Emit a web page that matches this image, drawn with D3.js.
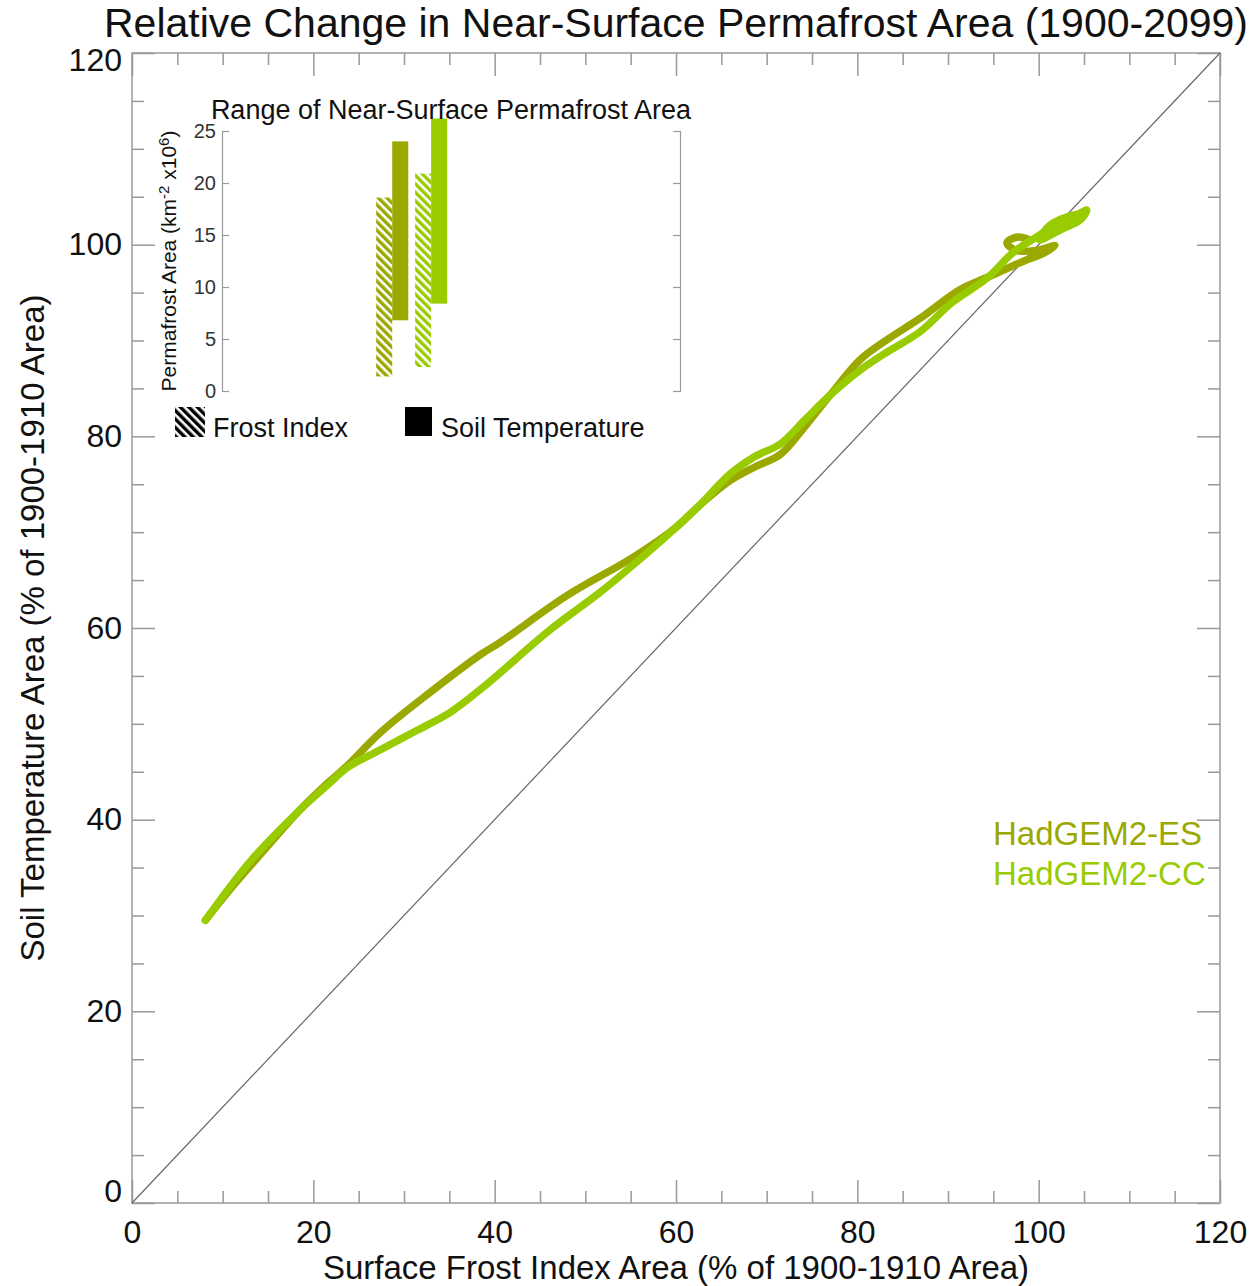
<!DOCTYPE html>
<html>
<head>
<meta charset="utf-8">
<script src="https://cdn.jsdelivr.net/npm/d3@7"></script>
<style>
  body { margin: 0; background: #fff; }
  text { font-family: "Liberation Sans", Arial, Helvetica, sans-serif; }
</style>
</head>
<body>
<svg id="chart" width="1257" height="1286"></svg>
<script>
/* global d3 */

const models = ['HadGEM2-ES', 'HadGEM2-CC'];
const modelColors = ['#9aa800', '#99cc00'];

// trajectories in % of 1900-1910 area (x: surface frost index, y: soil temperature)
const esFrost = [8.1, 10.8, 14.1, 18.5, 21.8, 23.7, 27.4, 32.9, 38.4, 40.6, 48.0, 55.3, 60.0, 62.6, 66.0, 68.7, 71.5, 74.2, 77.0, 80.3, 83.3, 86.9, 91.3, 94.6, 97.9, 100.7, 101.8, 99.7, 97.5, 96.5, 97.7, 99.0];
const esSoil = [29.5, 32.7, 36.3, 41.0, 44.0, 45.6, 49.1, 53.3, 57.2, 58.5, 63.4, 67.4, 70.5, 72.8, 75.4, 76.8, 78.1, 81.0, 84.3, 88.0, 90.1, 92.3, 95.3, 96.7, 98.1, 99.2, 99.9, 99.4, 99.4, 100.2, 100.8, 100.5];
const ccFrost = [8.1, 13.0, 18.5, 21.8, 23.7, 27.4, 31.4, 35.1, 38.7, 46.1, 51.6, 55.3, 60.0, 62.6, 66.0, 68.7, 71.5, 74.2, 77.0, 80.3, 83.3, 86.9, 90.5, 94.3, 97.2, 99.6, 101.8, 104.0, 105.3, 104.6, 102.3, 100.1, 101.2, 103.5, 104.8];
const ccSoil = [29.5, 35.6, 41.0, 43.8, 45.4, 47.3, 49.3, 51.2, 53.8, 59.8, 63.7, 66.6, 70.5, 72.8, 76.1, 77.9, 79.2, 81.7, 84.3, 86.9, 88.8, 90.9, 94.0, 96.5, 99.2, 100.7, 102.0, 103.0, 103.6, 102.6, 101.5, 100.5, 102.0, 103.0, 103.2];

// inset: range of near-surface permafrost area (km2 x10^6)
const frostMin = [1.4, 2.3];
const frostMax = [18.6, 20.9];
const soilMin = [6.8, 8.4];
const soilMax = [24.0, 26.2];

const mainTicks = [0, 20, 40, 60, 80, 100, 120];
const insetTicks = [0, 5, 10, 15, 20, 25];

const axisColor = '#999';
const font = '"Liberation Sans", Arial, Helvetica, sans-serif';

const svg = d3.select('#chart');

/* MAIN PLOT */
const x = d3.scaleLinear().domain([0, 120]).range([132, 1220]);
const y = d3.scaleLinear().domain([0, 120]).range([1203, 53]);
const minorTicks = d3.range(0, 121, 5).filter(v => v % 20 !== 0);

const styleAxis = sel => {
  sel.select('.domain').remove();
  sel.selectAll('line').attr('stroke', axisColor).attr('stroke-width', 1.5);
  sel.selectAll('text')
    .attr('fill', '#111')
    .attr('font-size', 32)
    .attr('font-family', font);
};

// minor ticks on all four sides, pointing inward
const sides = [
  { axis: d3.axisBottom(x), at: `translate(0,${y(0)})` },
  { axis: d3.axisTop(x), at: `translate(0,${y(120)})` },
  { axis: d3.axisLeft(y), at: `translate(${x(0)},0)` },
  { axis: d3.axisRight(y), at: `translate(${x(120)},0)` },
];

sides.forEach(s => {
  svg.append('g')
    .attr('transform', s.at)
    .call(s.axis.tickValues(minorTicks).tickSize(-12).tickFormat(''))
    .call(styleAxis);
});

svg.append('g')
  .attr('transform', `translate(0,${y(0)})`)
  .call(d3.axisBottom(x).tickValues(mainTicks).tickSize(-23).tickPadding(17).tickFormat(d3.format('d')))
  .call(styleAxis);

svg.append('g')
  .attr('transform', `translate(0,${y(120)})`)
  .call(d3.axisTop(x).tickValues(mainTicks).tickSize(-23).tickFormat(''))
  .call(styleAxis);

svg.append('g')
  .attr('transform', `translate(${x(0)},0)`)
  .call(d3.axisLeft(y).tickValues(mainTicks).tickSize(-23).tickPadding(10).tickFormat(d3.format('d')))
  .call(styleAxis)
  .selectAll('text')
    // end labels are kept inside the frame
    .attr('y', d => (d === 0 ? -12 : d === 120 ? 7 : 0));

svg.append('g')
  .attr('transform', `translate(${x(120)},0)`)
  .call(d3.axisRight(y).tickValues(mainTicks).tickSize(-23).tickFormat(''))
  .call(styleAxis);

svg.append('rect')
  .attr('x', x(0))
  .attr('y', y(120))
  .attr('width', x(120) - x(0))
  .attr('height', y(0) - y(120))
  .attr('fill', 'none')
  .attr('stroke', axisColor)
  .attr('stroke-width', 1.5);

// 1:1 line
svg.append('line')
  .attr('x1', x(0)).attr('y1', y(0))
  .attr('x2', x(120)).attr('y2', y(120))
  .attr('stroke', '#666')
  .attr('stroke-width', 1.2);

const line = d3.line()
  .curve(d3.curveCatmullRom.alpha(0.5))
  .x(d => x(d[0]))
  .y(d => y(d[1]));

const series = [d3.zip(esFrost, esSoil), d3.zip(ccFrost, ccSoil)];

svg.append('g')
  .selectAll('path')
  .data(series)
  .enter().append('path')
    .attr('d', line)
    .attr('fill', 'none')
    .attr('stroke', (d, i) => modelColors[i])
    .attr('stroke-width', 7.5)
    .attr('stroke-linecap', 'round')
    .attr('stroke-linejoin', 'round');

// model labels
svg.append('g')
  .selectAll('text')
  .data(models)
  .enter().append('text')
    .attr('x', 993)
    .attr('y', (d, i) => 845 + i * 40)
    .attr('font-size', 33)
    .attr('fill', (d, i) => modelColors[i])
    .text(d => d);

svg.append('text')
  .attr('x', 676)
  .attr('y', 37)
  .attr('text-anchor', 'middle')
  .attr('font-size', 41)
  .attr('fill', '#111')
  .text('Relative Change in Near-Surface Permafrost Area (1900-2099)');

svg.append('text')
  .attr('x', 676)
  .attr('y', 1279)
  .attr('text-anchor', 'middle')
  .attr('font-size', 33)
  .attr('fill', '#111')
  .text('Surface Frost Index Area (% of 1900-1910 Area)');

svg.append('text')
  .attr('transform', 'translate(44,628) rotate(-90)')
  .attr('text-anchor', 'middle')
  .attr('font-size', 33)
  .attr('fill', '#111')
  .text('Soil Temperature Area (% of 1900-1910 Area)');

/* INSET: RANGE OF PERMAFROST AREA */
const ix = d3.scaleLinear().domain([0, 30]).range([222, 680]);
const iy = d3.scaleLinear().domain([0, 25]).range([391, 131]);
const pairStart = [10.1, 12.65];
const barW = 1.05;

const defs = svg.append('defs');
const hatch = (id, color) => {
  const p = defs.append('pattern')
    .attr('id', id)
    .attr('patternUnits', 'userSpaceOnUse')
    .attr('width', 6)
    .attr('height', 6)
    .attr('patternTransform', 'rotate(-45)');
  p.append('rect').attr('width', 6).attr('height', 6).attr('fill', '#fff');
  p.append('rect').attr('width', 3.4).attr('height', 6).attr('fill', color);
};
hatch('hatch-0', modelColors[0]);
hatch('hatch-1', modelColors[1]);
hatch('hatch-k', '#000');

const inset = svg.append('g').attr('class', 'inset');

const insetMinor = d3.range(0, 26, 1).filter(v => v % 5 !== 0);
[
  { axis: d3.axisLeft, at: ix(0), labels: true },
  { axis: d3.axisRight, at: ix(30), labels: false },
].forEach(s => {
  const g = inset.append('g').attr('transform', `translate(${s.at},0)`);
  g.call(s.axis(iy).tickValues(insetMinor).tickSize(-3).tickFormat(''));
  g.call(s.axis(iy).tickValues(insetTicks).tickSize(-7).tickPadding(6)
    .tickFormat(s.labels ? d3.format('d') : ''));
  g.selectAll('.domain').attr('stroke', axisColor).attr('stroke-width', 1.2);
  g.selectAll('line').attr('stroke', axisColor).attr('stroke-width', 1.2);
  g.selectAll('text')
    .attr('font-size', 20)
    .attr('font-family', font)
    .attr('fill', '#333');
});

inset.append('g')
  .selectAll('rect')
  .data(models)
  .enter().append('rect')
    .attr('x', (d, i) => ix(pairStart[i]))
    .attr('y', (d, i) => iy(frostMax[i]))
    .attr('width', ix(barW) - ix(0))
    .attr('height', (d, i) => iy(frostMin[i]) - iy(frostMax[i]))
    .attr('fill', (d, i) => `url(#hatch-${i})`);

inset.append('g')
  .selectAll('rect')
  .data(models)
  .enter().append('rect')
    .attr('x', (d, i) => ix(pairStart[i] + barW))
    .attr('y', (d, i) => iy(soilMax[i]))
    .attr('width', ix(barW) - ix(0))
    .attr('height', (d, i) => iy(soilMin[i]) - iy(soilMax[i]))
    .attr('fill', (d, i) => modelColors[i]);

inset.append('text')
  .attr('x', 451)
  .attr('y', 119)
  .attr('text-anchor', 'middle')
  .attr('font-size', 27)
  .attr('fill', '#111')
  .text('Range of Near-Surface Permafrost Area');

const ylab = inset.append('text')
  .attr('transform', `translate(176,${(iy(0) + iy(25)) / 2}) rotate(-90)`)
  .attr('text-anchor', 'middle')
  .attr('font-size', 21)
  .attr('fill', '#111');
ylab.append('tspan').text('Permafrost Area (km');
ylab.append('tspan').attr('dy', -7).attr('font-size', 15).text('-2');
ylab.append('tspan').attr('dy', 7).text(' x10');
ylab.append('tspan').attr('dy', -7).attr('font-size', 15).text('6');
ylab.append('tspan').attr('dy', 7).text(')');

// inset legend
inset.append('rect')
  .attr('x', 175).attr('y', 407)
  .attr('width', 30).attr('height', 30)
  .attr('fill', 'url(#hatch-k)');
inset.append('text')
  .attr('x', 213).attr('y', 437)
  .attr('font-size', 27)
  .attr('fill', '#111')
  .text('Frost Index');
inset.append('rect')
  .attr('x', 405).attr('y', 407)
  .attr('width', 27).attr('height', 29)
  .attr('fill', '#000');
inset.append('text')
  .attr('x', 441).attr('y', 437)
  .attr('font-size', 27)
  .attr('fill', '#111')
  .text('Soil Temperature');
</script>
</body>
</html>
